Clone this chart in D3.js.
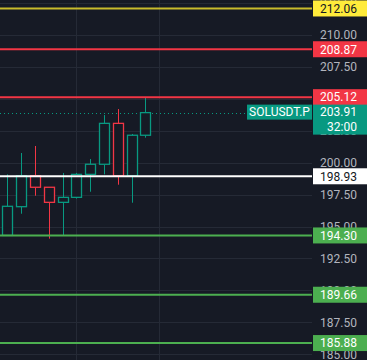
<!DOCTYPE html>
<html><head><meta charset="utf-8">
<script src="https://cdn.jsdelivr.net/npm/d3@7/dist/d3.min.js"></script>
<style>html,body{margin:0;padding:0;background:#161a25;}svg{display:block;}</style>
</head><body><svg id="c" width="367" height="360"></svg>
<script>
const opens  = [194.30,196.55,198.97,198.07,196.89,197.28,199.08,199.87,203.07,198.97,202.14];
const highs  = [199.08,200.75,201.30,198.07,199.19,199.19,200.28,203.72,204.19,202.24,205.12];
const lows   = [194.28,196.00,197.41,194.05,194.28,197.18,197.72,199.08,198.27,196.86,201.95];
const closes = [196.58,198.97,198.07,196.89,197.28,199.08,199.87,203.07,198.97,202.14,203.91];
const gridTicks = [212.5,210,207.5,205,202.5,200,197.5,195,192.5,190,187.5,185];
const vGridIdx = [5, 11];
const levels = [212.06,208.87,205.12,198.93,194.30,189.66,185.88];
const levelKinds = ["yellow","red","red","white","green","green","green"];
const lastPrice = 203.91;
const symbol = "SOLUSDT.P";
const countdown = "32:00";

const W=367,H=360, plotR=312;
const col = {bg:"#161a25",grid:"#252a36",up:"#089981",down:"#f23645",text:"#b2b5be"};
const kindStyle = {
  yellow:{line:"#c9bc2c",box:"#ffeb3b",txt:"#131722"},
  red:{line:"#f23645",box:"#f23645",txt:"#ffffff"},
  white:{line:"#ffffff",box:"#ffffff",txt:"#131722"},
  green:{line:"#4caf50",box:"#4caf50",txt:"#ffffff"}
};
const y = d3.scaleLinear().domain([185,210]).range([354.3,34.8]);
const x = d3.scaleLinear().domain([0,10]).range([7.3,145.3]);
const svg = d3.select("#c");
svg.append("rect").attr("width",W).attr("height",H).attr("fill",col.bg);
const font = "Roboto, 'Noto Sans', sans-serif";

// grid
svg.append("g").selectAll("line").data(gridTicks).join("line")
  .attr("x1",0).attr("x2",plotR).attr("y1",d=>Math.round(y(d))+0.5).attr("y2",d=>Math.round(y(d))+0.5)
  .attr("stroke",col.grid).attr("stroke-width",1);
svg.append("g").selectAll("line").data(vGridIdx).join("line")
  .attr("x1",d=>Math.round(x(d))+0.5).attr("x2",d=>Math.round(x(d))+0.5).attr("y1",0).attr("y2",H)
  .attr("stroke",col.grid).attr("stroke-width",1);

// axis labels
const axis = d3.axisRight(y).tickValues(gridTicks).tickFormat(d3.format(".2f")).tickSize(0).tickPadding(0);
const ag = svg.append("g").attr("transform",`translate(357,0)`).call(axis);
ag.select(".domain").remove();
ag.selectAll("text").attr("text-anchor","end").attr("x",0).attr("fill",col.text)
  .style("font-family",font).style("font-size","12px");

// last price dotted line
svg.append("line").attr("x1",0).attr("x2",247).attr("y1",Math.round(y(lastPrice))+0.5).attr("y2",Math.round(y(lastPrice))+0.5)
  .attr("stroke",col.up).attr("stroke-width",1).attr("stroke-dasharray","1,3");

// candles
const data = opens.map((o,i)=>({i,o,h:highs[i],l:lows[i],c:closes[i]}));
const cg = svg.append("g");
data.forEach(d=>{
  const up = d.c>=d.o, color = up?col.up:col.down;
  const cx = Math.round(x(d.i))+0.5;
  const top = Math.min(y(d.o),y(d.c)), bot = Math.max(y(d.o),y(d.c));
  cg.append("line").attr("x1",cx).attr("x2",cx).attr("y1",y(d.h)).attr("y2",top).attr("stroke",color);
  cg.append("line").attr("x1",cx).attr("x2",cx).attr("y1",bot).attr("y2",y(d.l)).attr("stroke",color);
  cg.append("rect").attr("x",cx-5).attr("width",10).attr("y",top).attr("height",Math.max(1,bot-top))
    .attr("fill",col.bg).attr("stroke",color).attr("stroke-width",1.3);
});

// level lines
levels.forEach((p,k)=>{
  const s = kindStyle[levelKinds[k]];
  svg.append("line").attr("x1",0).attr("x2",plotR).attr("y1",y(p)).attr("y2",y(p))
    .attr("stroke",s.line).attr("stroke-width",2);
});
// level boxes
levels.forEach((p,k)=>{
  const s = kindStyle[levelKinds[k]];
  const yy = y(p);
  svg.append("rect").attr("x",plotR+1).attr("y",yy-8).attr("width",W-plotR).attr("height",16).attr("fill",s.box);
  svg.append("text").attr("x",357).attr("y",yy).attr("dy","0.36em").attr("text-anchor","end")
    .attr("fill",s.txt).style("font-family",font).style("font-size","12px").text(d3.format(".2f")(p));
});

// last price box
const ly = y(lastPrice);
svg.append("rect").attr("x",247).attr("y",ly-8).attr("width",65).attr("height",15).attr("fill",col.up);
svg.append("text").attr("x",279.5).attr("y",ly-0.5).attr("dy","0.36em").attr("text-anchor","middle")
  .attr("fill","#ffffff").style("font-family",font).style("font-size","12px").text(symbol);
svg.append("rect").attr("x",plotR+1).attr("y",ly-8).attr("width",W-plotR).attr("height",30).attr("fill",col.up);
svg.append("text").attr("x",357).attr("y",ly-0.5).attr("dy","0.36em").attr("text-anchor","end")
  .attr("fill","#ffffff").style("font-family",font).style("font-size","12px").text(d3.format(".2f")(lastPrice));
svg.append("text").attr("x",357).attr("y",ly+14).attr("dy","0.36em").attr("text-anchor","end")
  .attr("fill","#ffffff").style("font-family",font).style("font-size","12px").text(countdown);
</script></body></html>
